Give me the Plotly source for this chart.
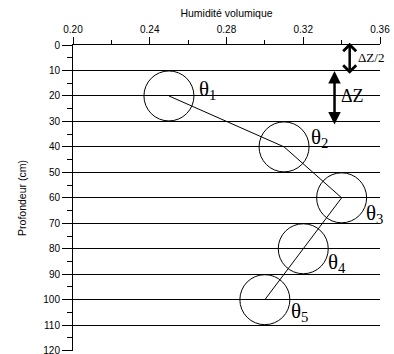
import plotly.graph_objects as go

# Soil moisture profile: volumetric water content at each measurement depth
depth_cm = [20, 40, 60, 80, 100]
theta = [0.25, 0.31, 0.34, 0.32, 0.30]
theta_labels = ["θ<sub>1</sub>", "θ<sub>2</sub>", "θ<sub>3</sub>", "θ<sub>4</sub>", "θ<sub>5</sub>"]
# pixel offsets of each label from its point (right of the circle)
label_dx = [28, 25, 22, 23, 24]
label_dy = [6, 9, -16, -14, -12]

# layer thickness markers: (x position, top depth, bottom depth)
dz_half = (0.3442, -1.5, 11.3)
dz_full = (0.3363, 9.6, 31.2)

serif = "Liberation Serif"
sans = "Liberation Sans, Arial, sans-serif"

fig = go.Figure()
fig.add_trace(go.Scatter(
    x=theta, y=depth_cm, mode="lines+markers",
    line=dict(color="black", width=1),
    marker=dict(symbol="circle-open", size=50, color="black",
                line=dict(color="black", width=1)),
    cliponaxis=False, showlegend=False, hoverinfo="skip",
))

annotations = []
for xv, yv, txt, dx, dy in zip(theta, depth_cm, theta_labels, label_dx, label_dy):
    annotations.append(dict(
        x=xv, y=yv, text=txt, showarrow=False, xanchor="left", yanchor="middle",
        xshift=dx, yshift=dy, font=dict(family=serif, size=21, color="black"),
    ))

# double-headed arrows for ΔZ/2 and ΔZ
annotations.append(dict(
    x=dz_half[0], y=dz_half[2], ax=dz_half[0], ay=dz_half[1],
    xref="x", yref="y", axref="x", ayref="y", text="",
    showarrow=True, arrowhead=4, startarrowhead=4, arrowside="end+start",
    arrowwidth=2.5, arrowsize=1, startarrowsize=1, arrowcolor="black",
))
annotations.append(dict(
    x=dz_full[0], y=dz_full[2], ax=dz_full[0], ay=dz_full[1],
    xref="x", yref="y", axref="x", ayref="y", text="",
    showarrow=True, arrowhead=2, startarrowhead=2, arrowside="end+start",
    arrowwidth=2.5, arrowsize=1, startarrowsize=1, arrowcolor="black",
))
annotations.append(dict(
    x=dz_half[0], y=(dz_half[1] + dz_half[2]) / 2, text="ΔZ/2", showarrow=False,
    xanchor="left", yanchor="middle", xshift=6,
    font=dict(family=serif, size=13, color="black"),
))
annotations.append(dict(
    x=dz_full[0], y=20, text="ΔZ", showarrow=False,
    xanchor="left", yanchor="middle", xshift=4, yshift=0,
    font=dict(family=serif, size=18, color="black"),
))

fig.update_layout(
    width=394, height=354,
    margin=dict(l=73, r=14, t=45, b=3),
    paper_bgcolor="white", plot_bgcolor="white",
    font=dict(family=sans, size=10, color="black"),
    annotations=annotations,
    xaxis=dict(
        range=[0.20, 0.36], side="top", dtick=0.04, tick0=0.20, tickformat=".2f",
        showline=True, linecolor="black", linewidth=1,
        ticks="outside", ticklen=7, tickcolor="black", tickwidth=1,
        minor=dict(dtick=0.02, ticks="outside", ticklen=4, tickcolor="black", showgrid=False),
        showgrid=False, zeroline=False, automargin=False,
        title=dict(text="Humidité volumique", font=dict(size=10.5), standoff=4),
        tickfont=dict(size=10),
    ),
    yaxis=dict(
        range=[120.15, 0], dtick=10, tick0=0,
        showline=True, linecolor="black", linewidth=1,
        ticks="outside", ticklen=10, tickcolor="black", tickwidth=1,
        minor=dict(dtick=5, ticks="outside", ticklen=5, tickcolor="black", showgrid=False),
        showgrid=True, gridcolor="black", gridwidth=1, zeroline=False,
        ticklabeloverflow="allow", automargin=False,
        title=dict(text="Profondeur (cm)", font=dict(size=10.5), standoff=14),
        tickfont=dict(size=10),
    ),
)

fig.write_html("out.html")
